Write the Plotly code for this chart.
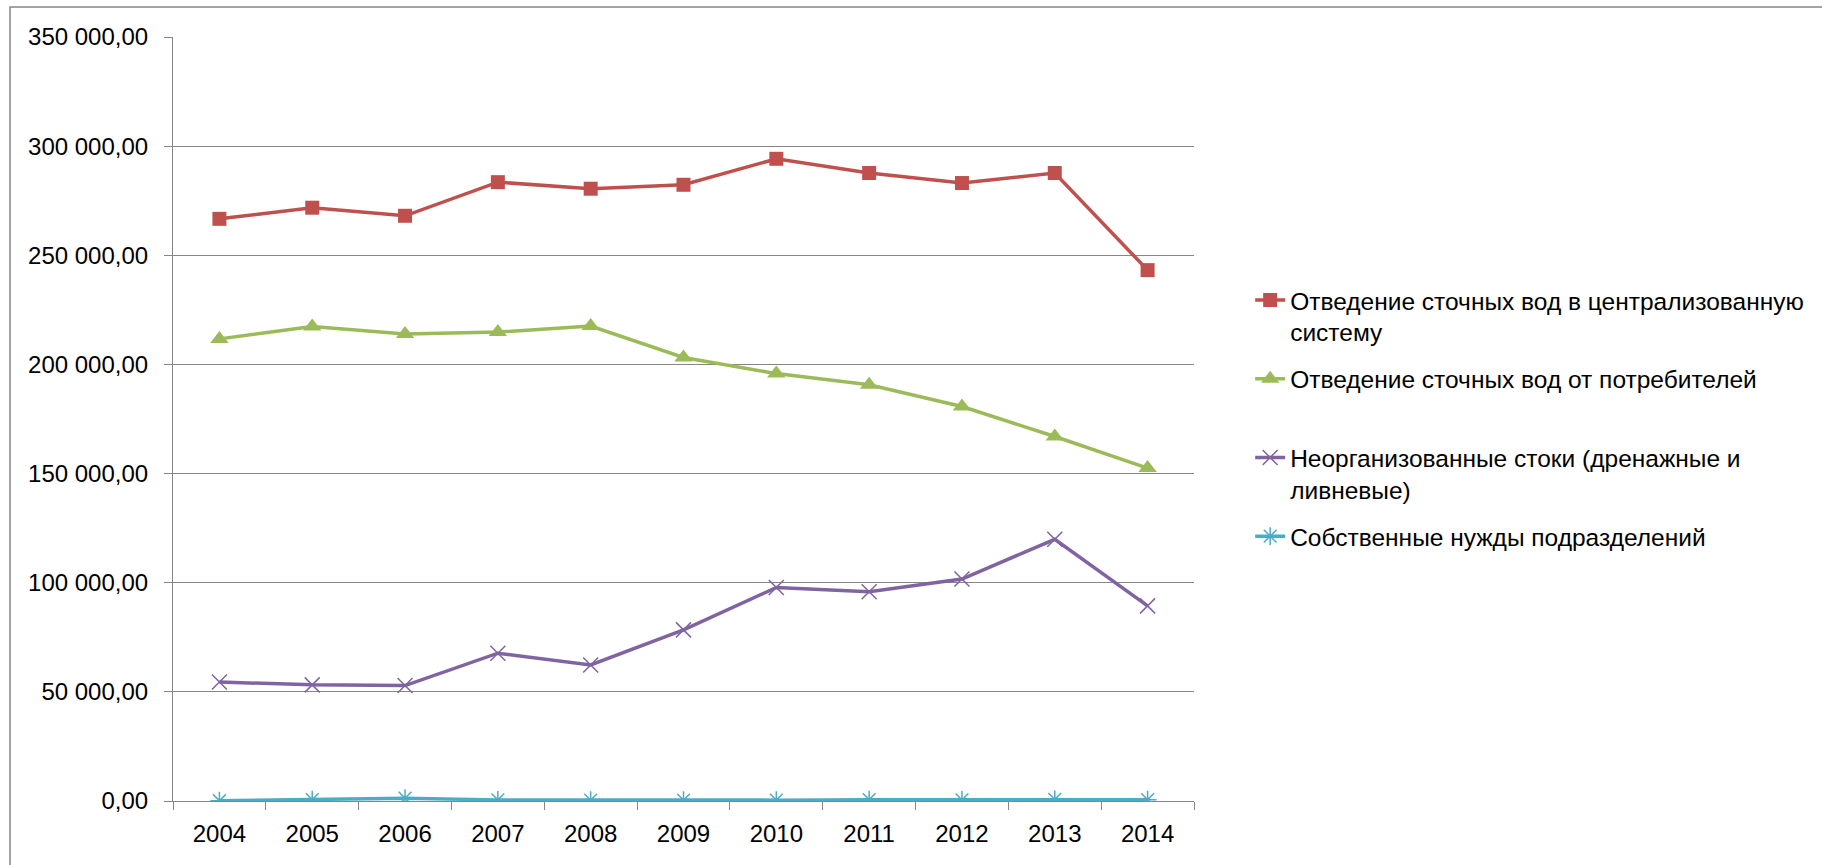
import plotly.graph_objects as go

# Wastewater discharge by year, m3
years = ["2004", "2005", "2006", "2007", "2008", "2009", "2010", "2011", "2012", "2013", "2014"]
central = [266700, 271800, 268100, 283500, 280500, 282300, 294200, 287700, 283100, 287700, 243200]
consumers = [211700, 217400, 213900, 214800, 217600, 203200, 195800, 190700, 180700, 167000, 152500]
unorganized = [54500, 53200, 52900, 67700, 62300, 78400, 97800, 95900, 101700, 119900, 89400]
own_needs = [100, 600, 1300, 500, 400, 400, 400, 600, 500, 700, 600]

names = [
    "Отведение сточных вод в централизованную<br>систему",
    "Отведение сточных вод от потребителей<br> ",
    "Неорганизованные стоки (дренажные и<br>ливневые)",
    "Собственные нужды подразделений",
]

FONT = "Liberation Sans"
GRID = "#868686"

fig = go.Figure()

fig.add_trace(go.Scatter(
    x=years, y=central, name=names[0], legendgroup="a", mode="lines+markers",
    line=dict(color="#C0504D", width=3.5),
    marker=dict(symbol="square", size=14, color="#C0504D"),
))
fig.add_trace(go.Scatter(
    x=years, y=consumers, name=names[1], legendgroup="b", mode="lines+markers",
    line=dict(color="#9BBB59", width=3.5),
    marker=dict(symbol="triangle-up", size=16, color="#9BBB59"),
))
fig.add_trace(go.Scatter(
    x=years, y=unorganized, name=names[2], legendgroup="c", mode="lines+markers",
    line=dict(color="#8064A2", width=3.5),
    marker=dict(symbol="x-thin-open", size=15, color="#8064A2",
                line=dict(color="#8064A2", width=1.5)),
))
fig.add_trace(go.Scatter(
    x=years, y=own_needs, name=names[3], legendgroup="d", mode="lines+markers",
    line=dict(color="#4BACC6", width=3.5),
    marker=dict(symbol="asterisk-open", size=15, color="#4BACC6",
                line=dict(color="#4BACC6", width=1.5)),
))

fig.update_layout(
    width=1822, height=865,
    margin=dict(l=173, r=628, t=37, b=64, pad=0),
    paper_bgcolor="white", plot_bgcolor="white",
    font=dict(family=FONT, size=24, color="black"),
    separators=", ",
    showlegend=True,
    legend=dict(
        x=1.055, xanchor="left", y=0.685, yanchor="top",
        font=dict(family=FONT, size=24.5, color="black"),
        valign="top", tracegroupgap=12, bgcolor="rgba(0,0,0,0)",
    ),
    xaxis=dict(
        type="category", range=[-0.5, 10.5],
        showgrid=False, showline=True, linecolor=GRID, linewidth=1,
        ticks="outside", tickson="boundaries", ticklen=8, tickcolor=GRID,
        ticklabelstandoff=11,
        tickfont=dict(family=FONT, size=24),
    ),
    yaxis=dict(
        range=[0, 350000], dtick=50000, tick0=0,
        tickformat=",.2f",
        showgrid=True, gridcolor=GRID, gridwidth=1,
        showline=True, linecolor=GRID, linewidth=1,
        ticks="outside", ticklen=8, tickcolor=GRID,
        ticklabelstandoff=11, zeroline=False,
        tickfont=dict(family=FONT, size=24),
    ),
    shapes=[dict(
        type="rect", xref="paper", yref="paper",
        x0=(10 - 173) / 1021, x1=(1840 - 173) / 1021,
        y0=(801 - 890) / 764, y1=(801 - 7) / 764,
        line=dict(color=GRID, width=1.5), fillcolor="rgba(0,0,0,0)",
        layer="below",
    )],
)

fig.write_html("out.html")
